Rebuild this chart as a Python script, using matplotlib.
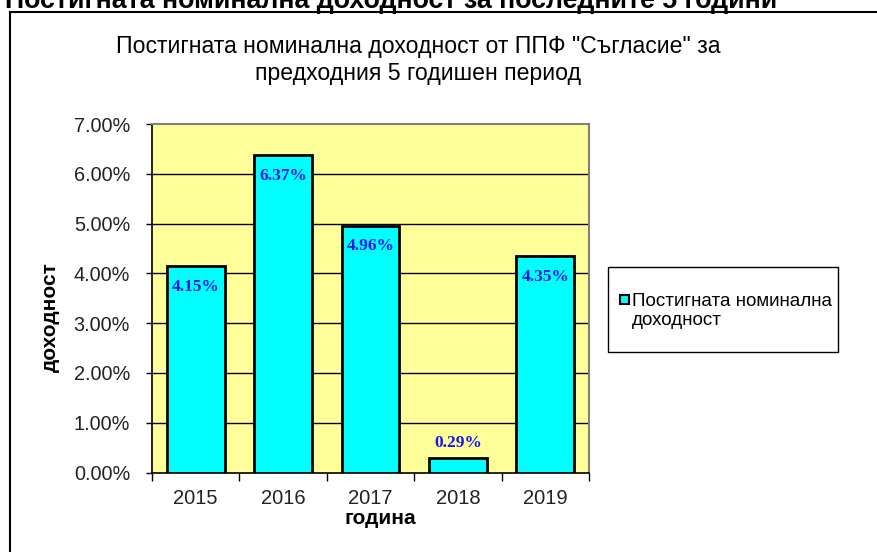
import matplotlib
matplotlib.use("Agg")
import matplotlib.pyplot as plt
from matplotlib.patches import Rectangle
from matplotlib.lines import Line2D

years = ["2015", "2016", "2017", "2018", "2019"]
returns = [4.15, 6.37, 4.96, 0.29, 4.35]
y_ticks = [0, 1, 2, 3, 4, 5, 6, 7]
title = 'Постигната номинална доходност от ППФ "Съгласие" за\nпредходния 5 годишен период'
top_title = "Постигната номинална доходност за последните 5 години"
series_name = "Постигната номинална\nдоходност"
x_label = "година"
y_label = "доходност"

plt.rcParams['font.family'] = ['Liberation Sans', 'DejaVu Sans']

W, H = 878, 552
fig = plt.figure(figsize=(W / 100, H / 100), dpi=100)
fig.patch.set_facecolor('white')

def fx(px):
    return px / W

def fy(py):
    return 1 - py / H

# outer frame
fig.add_artist(Line2D([fx(10), 1.0], [fy(12), fy(12)], color='black', lw=1.5, transform=fig.transFigure))
fig.add_artist(Line2D([fx(10), fx(10)], [fy(12), 0.0], color='black', lw=1.5, transform=fig.transFigure))

# clipped top title
fig.text(fx(5), fy(7.5), top_title, fontsize=19.3, fontweight='bold', ha='left', va='baseline', color='black')

ax_left, ax_right, ax_top, ax_bottom = 152, 589, 124, 472.5
ax = fig.add_axes([fx(ax_left), fy(ax_bottom), fx(ax_right) - fx(ax_left), fy(ax_top) - fy(ax_bottom)])
ax.set_facecolor('#FFFF99')

x = list(range(len(years)))
bars = ax.bar(x, returns, width=0.66, color='#00FFFF', edgecolor='black', linewidth=2, zorder=3)

ax.set_xlim(-0.5, len(years) - 0.5)
ax.set_ylim(y_ticks[0], y_ticks[-1])
ax.set_yticks(y_ticks)
ax.set_yticklabels([f"{v:.2f}%" for v in y_ticks])
for v in y_ticks[1:-1]:
    ax.axhline(v, color='black', lw=1, zorder=1)

# x ticks at category boundaries, labels at centres
ax.set_xticks([i - 0.5 for i in range(len(years) + 1)])
ax.set_xticklabels([])
ax.set_xticks(x, minor=True)
ax.set_xticklabels(years, minor=True)
ax.tick_params(axis='x', which='major', length=5.4, width=1, color='black', direction='out')
ax.tick_params(axis='x', which='minor', length=0, pad=12, labelsize=14.5, labelcolor='#222222')
ax.tick_params(axis='y', length=4.5, width=1, color='black', direction='out', pad=11.3,
               labelsize=14.3, labelcolor='#222222')

for s in ['top', 'right']:
    ax.spines[s].set_color('#808080')
    ax.spines[s].set_linewidth(1.5)
for s in ['left', 'bottom']:
    ax.spines[s].set_color('black')
    ax.spines[s].set_linewidth(1.2)

ax.set_xlabel(x_label, fontsize=15, fontweight='bold')
ax.xaxis.set_label_coords((380 - ax_left) / (ax_right - ax_left), -(518 - ax_bottom) / (ax_bottom - ax_top))
ax.xaxis.label.set_va('center')
ax.set_ylabel(y_label, fontsize=15, fontweight='bold')
ax.yaxis.set_label_coords((50 - ax_left) / (ax_right - ax_left), (ax_bottom - 317) / (ax_bottom - ax_top))
ax.yaxis.label.set_va('center')

for xi, v in zip(x, returns):
    off = -15 if v > 1 else 11
    ax.annotate(f"{v:.2f}%", (xi, v), xytext=(0, off), textcoords='offset points',
                ha='center', va='center', fontsize=12.5, fontweight='bold', color='#1515F0',
                family=['Liberation Serif', 'DejaVu Serif'], zorder=5)

# chart title
fig.text(fx(418), fy(60), title, fontsize=16.6, ha='center', va='center', linespacing=1.2)

# legend
fig.add_artist(Rectangle((fx(608), fy(352)), fx(838) - fx(608), fy(267) - fy(352),
                         transform=fig.transFigure, facecolor='white', edgecolor='black', lw=1))
fig.add_artist(Rectangle((fx(620), fy(304)), fx(629) - fx(620), fy(295) - fy(304),
                         transform=fig.transFigure, facecolor=bars[0].get_facecolor(), edgecolor='black', lw=1.5))
fig.text(fx(632), fy(311), series_name, fontsize=13.5, ha='left', va='center', linespacing=1.2)

fig.savefig("out.png", dpi=100)
